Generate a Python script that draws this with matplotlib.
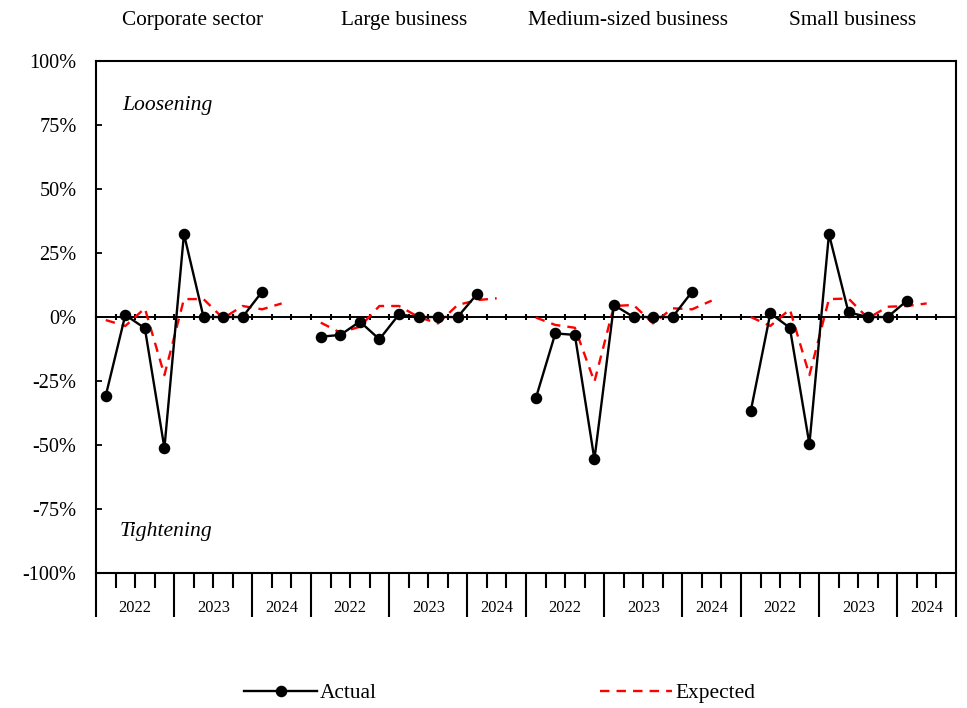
import matplotlib
matplotlib.use("Agg")
import matplotlib.pyplot as plt
from matplotlib.ticker import FixedLocator, FuncFormatter
import matplotlib.transforms as mtransforms

plt.rcParams['font.family'] = ['Liberation Serif', 'DejaVu Serif']

# ---- data ----
groups = ["Corporate sector", "Large business", "Medium-sized business", "Small business"]
years = ["2022", "2023", "2024"]
quarters_per_year = [4, 4, 3]

actual_corporate = [-30.7, 0.8, -4.4, -51.2, 32.4, 0.0, 0.0, 0.0, 9.9]
actual_large = [-7.7, -7.0, -1.8, -8.7, 1.0, 0.0, 0.0, 0.0, 9.0]
actual_medium = [-31.8, -6.4, -7.0, -55.6, 4.7, 0.0, 0.0, 0.0, 9.9]
actual_small = [-36.7, 1.4, -4.2, -49.7, 32.4, 1.8, 0.0, 0.0, 6.4]

expected_corporate = [-1.2, -3.5, 3.4, -22.7, 7.0, 7.0, -0.5, 4.3, 3.0, 5.3]
expected_large = [-2.2, -6.1, -3.8, 4.3, 4.3, 0.0, -2.5, 4.7, 6.6, 7.3]
expected_medium = [-0.2, -3.1, -4.2, -25.3, 4.3, 4.7, -2.5, 3.4, 3.0, 6.4]
expected_small = [0.0, -3.5, 3.0, -22.7, 7.0, 7.2, -0.5, 4.0, 4.3, 5.3]

actual_all = [actual_corporate, actual_large, actual_medium, actual_small]
expected_all = [expected_corporate, expected_large, expected_medium, expected_small]

yticks = [-100, -75, -50, -25, 0, 25, 50, 75, 100]

# ---- figure ----
fig = plt.figure(figsize=(9.67, 7.08), dpi=100)
ax = fig.add_axes([96/967, 1-573/708, 860/967, 512/708])

slots_per_group = sum(quarters_per_year)
n_total = slots_per_group * len(groups)

for g in range(len(groups)):
    off = g * slots_per_group
    xa = [off + i + 0.5 for i in range(len(actual_all[g]))]
    xe = [off + i + 0.5 for i in range(len(expected_all[g]))]
    ax.plot(xe, expected_all[g], color='#ff0000', lw=1.7, dashes=(4, 3), zorder=3,
            label="Expected" if g == 0 else None)
    ax.plot(xa, actual_all[g], color='black', lw=1.7, marker='o', markersize=7.3, zorder=4,
            label="Actual" if g == 0 else None)

ax.set_xlim(0, n_total)
ax.set_ylim(-100, 100)

# zero line with crossing ticks
ax.axhline(0, color='black', lw=1.4, zorder=2)
minor_pos = list(range(0, n_total + 1))
ax.plot(minor_pos, [0]*len(minor_pos), ls='none', marker='|', markersize=5,
        markeredgewidth=1.5, color='black', zorder=2, clip_on=False)

# bottom ticks
major_pos = []
for g in range(len(groups)):
    off = g * slots_per_group
    c = 0
    for q in quarters_per_year:
        major_pos.append(off + c)
        c += q
major_pos.append(n_total)
ax.xaxis.set_major_locator(FixedLocator(major_pos))
ax.xaxis.set_minor_locator(FixedLocator([p for p in minor_pos if p not in major_pos]))
ax.tick_params(axis='x', which='major', direction='out', length=31.5, width=1.5,
               labelbottom=False)
ax.tick_params(axis='x', which='minor', direction='out', length=10.8, width=1.5)

# year labels
trans = mtransforms.blended_transform_factory(ax.transData, ax.transAxes)
for g in range(len(groups)):
    off = g * slots_per_group
    c = 0
    for yr, q in zip(years, quarters_per_year):
        ax.text(off + c + q/2, -0.068, yr, transform=trans, ha='center', va='center',
                fontsize=11.8)
        c += q

# y axis
ax.yaxis.set_major_locator(FixedLocator(yticks))
ax.yaxis.set_major_formatter(FuncFormatter(lambda v, p: f"{int(v)}%"))
ax.tick_params(axis='y', direction='in', length=4.5, width=1.3, labelsize=14.6, pad=14)

for s in ax.spines.values():
    s.set_linewidth(1.5)

# group titles
title_x = [4.96, 15.76, 27.2, 38.7]
for tx, name in zip(title_x, groups):
    ax.text(tx, 1.08, name, transform=trans, ha='center', va='center', fontsize=15.3)

ax.text(1.33, 82.8, "Loosening", style='italic', fontsize=15.6, ha='left', va='center')
ax.text(1.23, -83.6, "Tightening", style='italic', fontsize=15.6, ha='left', va='center')

handles, labels = ax.get_legend_handles_labels()
order = [labels.index("Actual"), labels.index("Expected")]
fig.legend([handles[i] for i in order], [labels[i] for i in order],
           loc='center', bbox_to_anchor=(500/967, 1-693/708), ncol=2, frameon=False,
           fontsize=15.4, handlelength=3.4, columnspacing=10.4, handletextpad=0.15)

fig.savefig("out.png", dpi=100)
